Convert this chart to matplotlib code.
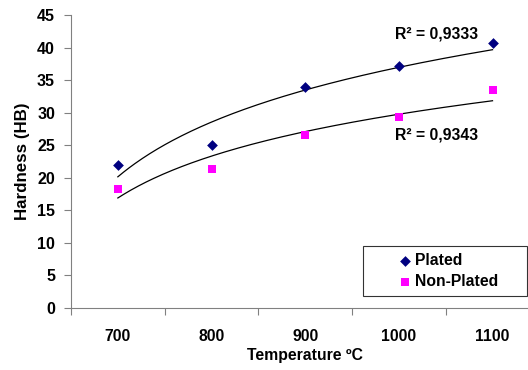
import matplotlib
matplotlib.use('Agg')
import matplotlib.pyplot as plt
import numpy as np

plt.rcParams['font.family'] = ['Liberation Sans', 'DejaVu Sans']
plt.rcParams['font.weight'] = 'bold'

temps = ['700', '800', '900', '1000', '1100']
plated = [22.0, 25.0, 33.9, 37.2, 40.7]
non_plated = [18.3, 21.3, 26.5, 29.3, 33.5]
r2_labels = ['R² = 0,9333', 'R² = 0,9343']

x = np.arange(1, len(temps) + 1)

fig = plt.figure(figsize=(5.28, 3.70), dpi=100)
ax = fig.add_axes([0.1345, 0.1676, 0.887, 0.7919])

# logarithmic trendlines like excel
xs = np.linspace(1, 5, 200)
for ys in (plated, non_plated):
    a, b = np.polyfit(np.log(x), ys, 1)
    ax.plot(xs, a * np.log(xs) + b, color='black', lw=0.9, zorder=2)

ax.scatter(x, plated, marker='D', s=30, linewidths=0, color='#000080', label='Plated', zorder=3)
ax.scatter(x, non_plated, marker='s', s=34, linewidths=0, color='#FF00FF', label='Non-Plated', zorder=3)

ax.text(4.40, 41.4, r2_labels[0], fontsize=11.3, fontweight='bold', ha='center')
ax.text(4.40, 25.8, r2_labels[1], fontsize=11.3, fontweight='bold', ha='center')

ax.set_xlim(0.5, 5.5)
ax.set_ylim(0, 45)
ax.set_yticks(range(0, 46, 5))
ax.set_xticks(np.arange(0.5, 5.6, 1))
ax.set_xticklabels([])
ax.set_xticks(x, minor=True)
ax.set_xticklabels(temps, minor=True, fontsize=11.3)
ax.tick_params(axis='x', which='minor', length=0, pad=15.4)
ax.tick_params(axis='x', which='major', length=5, direction='out', color='#808080')
ax.tick_params(axis='y', length=5, direction='out', color='#808080', labelsize=11.5, pad=6.5)

for s in ['top', 'right']:
    ax.spines[s].set_visible(False)
for s in ['left', 'bottom']:
    ax.spines[s].set_color('#808080')

ax.set_ylabel('Hardness (HB)', fontsize=12.2, fontweight='bold', labelpad=5)
ax.set_xlabel('Temperature ºC', fontsize=11.3, fontweight='bold', labelpad=2.9)

leg = ax.legend(loc='lower left', bbox_to_anchor=(0.6234, 0.041, 0.350, 0.174), mode='expand',
                frameon=True, fancybox=False, edgecolor='black',
                prop={'size': 11.3, 'weight': 'bold'},
                handlelength=4.46, handletextpad=-1.59, borderpad=0.455, labelspacing=0.34,
                borderaxespad=0)
leg.get_frame().set_linewidth(0.8)

fig.savefig('out.png', dpi=100)
